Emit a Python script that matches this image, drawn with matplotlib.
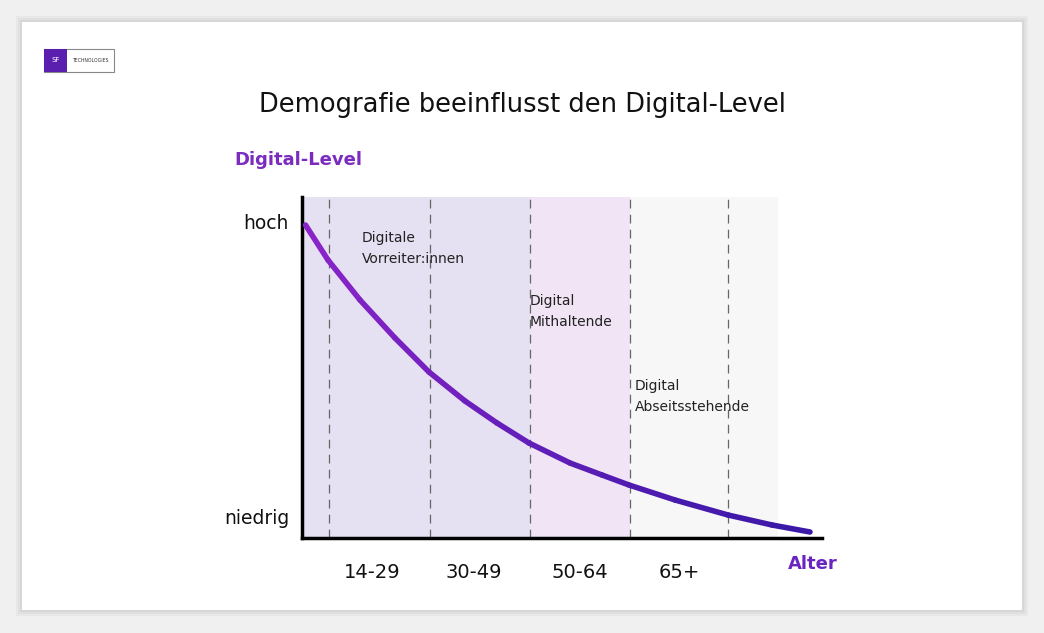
import matplotlib.pyplot as plt
import numpy as np
from matplotlib.collections import LineCollection
from matplotlib.patches import Rectangle

plt.rcParams['font.family'] = ['DejaVu Sans']

# curve (x: age axis units, y: digital level)
curve_x = [3.5, 26, 58, 93, 127, 163, 195, 227, 268, 300, 327, 373, 426, 470, 508]
curve_y = [313, 278, 238, 200, 166, 137, 115, 95, 75, 63, 53, 38, 23, 13, 6]
dash_x = [27, 128, 228, 328, 426]
bands = [(0, 228, '#e5e0f2'), (228, 328, '#f0e4f5'), (328, 476, '#f7f7f7')]
age_labels = ['14-29', '30-49', '50-64', '65+']
age_pos = [70, 172, 278, 377]
segment_labels = ['Digitale\nVorreiter:innen', 'Digital\nMithaltende', 'Digital\nAbseitsstehende']
segment_pos = [(60, 307), (228, 244), (333, 159)]

W, H = 1044, 633
fig = plt.figure(figsize=(W / 100, H / 100), dpi=100)
fig.patch.set_facecolor('#f0f0f0')

def fx(px):
    return px / W

def fy(py):
    return 1 - py / H

# card with soft shadow
for i, a in enumerate([0.03, 0.03, 0.04]):
    d = 6 - 2 * i
    fig.patches.append(Rectangle((fx(22 - d), fy(610 + d)), (1000 + 2 * d) / W, (588 + 2 * d) / H,
                                 transform=fig.transFigure, facecolor='#000000', alpha=a, lw=0, zorder=-3))
fig.patches.append(Rectangle((fx(22), fy(610)), 1000 / W, 588 / H, transform=fig.transFigure,
                             facecolor='white', lw=0, zorder=-2))

# logo
fig.patches.append(Rectangle((fx(44), fy(72)), 70 / W, 23 / H, transform=fig.transFigure,
                             facecolor='white', edgecolor='#888888', lw=0.8))
fig.patches.append(Rectangle((fx(44), fy(72)), 23 / W, 23 / H, transform=fig.transFigure,
                             facecolor='#5b1fb0', lw=0))
fig.text(fx(55.5), fy(60.5), 'SF', color='white', fontsize=5, ha='center', va='center')
fig.text(fx(90.5), fy(60.5), 'TECHNOLOGIES', color='#333333', fontsize=3.3, ha='center', va='center')

ax = fig.add_axes([fx(302), fy(538), 520 / W, 341 / H])
ax.set_zorder(5)
ax.patch.set_alpha(0)
ax.set_xlim(0, 520)
ax.set_ylim(0, 341)
for x0, x1, c in bands:
    ax.axvspan(x0, x1, color=c, lw=0, zorder=0)
for x in dash_x:
    ax.axvline(x, color='#666666', lw=0.9, ls=(0, (7, 5)), zorder=1)

x = np.array(curve_x, float)
y = np.array(curve_y, float)
pts = np.column_stack([x, y]).reshape(-1, 1, 2)
segs = np.concatenate([pts[:-1], pts[1:]], axis=1)
cols = plt.matplotlib.colors.LinearSegmentedColormap.from_list('g', ['#8a24c8', '#3a18a8'])(np.linspace(0, 1, len(segs)))
ax.add_collection(LineCollection(segs, colors=cols, linewidth=4, capstyle='round', joinstyle='round', zorder=3))

for t, (tx, ty) in zip(segment_labels, segment_pos):
    ax.text(tx, ty, t, fontsize=10, color='#222222', va='top', ha='left', linespacing=1.6)

for s in ['top', 'right']:
    ax.spines[s].set_visible(False)
ax.spines['left'].set_linewidth(2.5)
ax.spines['bottom'].set_linewidth(2.5)
ax.set_xticks([])
ax.set_yticks([])

fig.text(fx(522), fy(105), 'Demografie beeinflusst den Digital-Level', fontsize=18.5,
         ha='center', va='center', color='#111111')
fig.text(fx(234), fy(160), 'Digital-Level', fontsize=13, fontweight='bold', color='#7b2cbf',
         ha='left', va='center')
fig.text(fx(289), fy(224), 'hoch', fontsize=13.5, ha='right', va='center', color='#111111')
fig.text(fx(289), fy(519), 'niedrig', fontsize=13.5, ha='right', va='center', color='#111111')
for lab, p in zip(age_labels, age_pos):
    ax.text(p, -34, lab, fontsize=14, ha='center', va='center', color='#111111', clip_on=False)
fig.text(fx(813), fy(564), 'Alter', fontsize=13, fontweight='bold', color='#6a25c0',
         ha='center', va='center')

fig.savefig('out.png', dpi=100)
